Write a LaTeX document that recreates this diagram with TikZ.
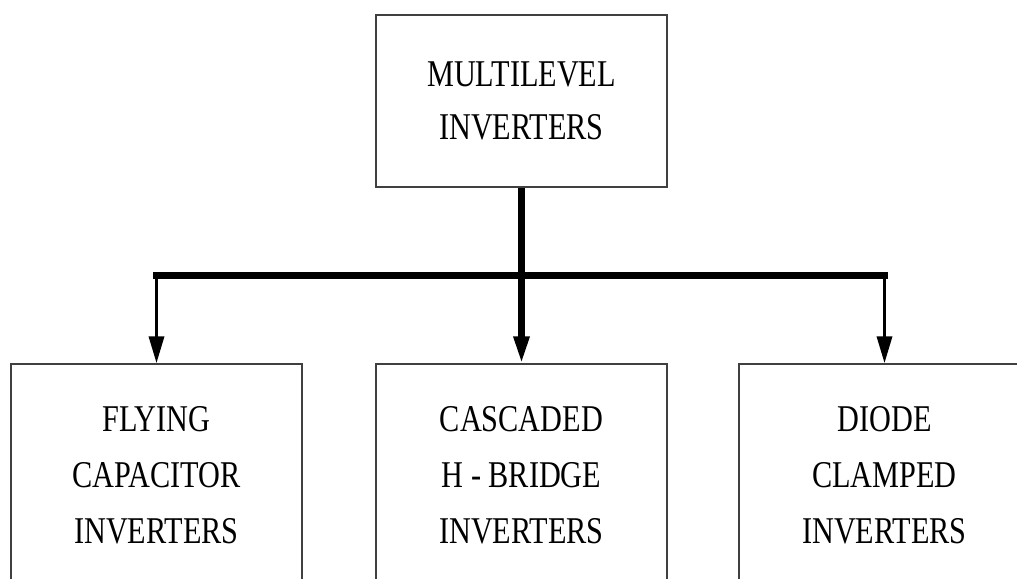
\documentclass[tikz,border=0pt]{standalone}
\usepackage{fontspec}
\setmainfont{Liberation Serif}[FakeStretch=0.8]
\usepackage{tikz}
\usetikzlibrary{arrows.meta}

\begin{document}
\begin{tikzpicture}[
    box/.style={draw=black!75, line width=1pt, minimum width=7.275cm, align=center},
    trunk/.style={line width=4.3pt},
    branch/.style={line width=2.5pt},
    tip/.style={-{Triangle[length=0.675cm, width=0.375cm]}}
  ]
            \clip (0,0) rectangle (25.425,14.475);
            \coordinate (m) at (13.0375,11.95);
            \coordinate (f) at (3.9125,2.5875);
            \coordinate (c) at (13.0375,2.5875);
            \coordinate (d) at (22.1125,2.5875);
            \coordinate (bus) at (0,7.5875);
            \node[box, minimum height=4.3cm, font=\fontsize{26.9pt}{37.7pt}\selectfont] (multi) at (m)
            {MULTILEVEL\\INVERTERS};
            \node[box, minimum height=5.575cm, font=\fontsize{26.9pt}{39.8pt}\selectfont] (fly) at (f)
            {FLYING\\CAPACITOR\\INVERTERS};
            \node[box, minimum height=5.575cm, font=\fontsize{26.9pt}{39.8pt}\selectfont] (casc) at (c)
            {CASCADED\\H - BRIDGE\\INVERTERS};
            \node[box, minimum height=5.575cm, font=\fontsize{26.9pt}{39.8pt}\selectfont] (diode) at (d)
            {DIODE\\CLAMPED\\INVERTERS};
            \draw[trunk, tip] (multi.south) --(casc.north);
            \draw[trunk, line cap=rect] (fly.north |- bus) --(diode.north |- bus);
            \draw[branch, tip] (fly.north |- bus) --(fly.north);
            \draw[branch, tip] (diode.north |- bus) --(diode.north);
        \end{tikzpicture}
\end{document}
